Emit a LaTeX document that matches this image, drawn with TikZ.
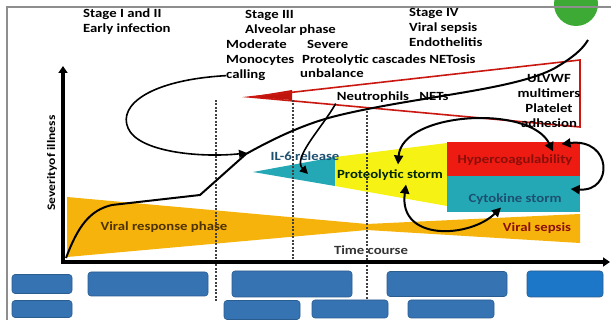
\documentclass[tikz,border=0pt]{standalone}
\usepackage{fontspec}
\setmainfont{Carlito}[FakeStretch=1.18]
\usetikzlibrary{arrows.meta, positioning, calc}
\definecolor{SevGrey}{HTML}{8E8E8E}
\definecolor{SevGreen}{HTML}{3DAA35}
\definecolor{SevOrange}{HTML}{F5B30C}
\definecolor{SevTeal}{HTML}{24A8B6}
\definecolor{SevYellow}{HTML}{F6F214}
\definecolor{SevRed}{HTML}{EE1B12}
\definecolor{SevBlue}{HTML}{3573B3}
\definecolor{SevBrightBlue}{HTML}{1D77C9}
\definecolor{SevBrown}{HTML}{4E3200}
\definecolor{SevDarkRed}{HTML}{8A0F0A}
\definecolor{SevDarkTeal}{HTML}{1D4F6E}
\tikzset{
    % text styles
    stage label/.style={
        font=\bfseries\fontsize{12.5}{15}\selectfont,
        align=left,
        inner sep=0pt,
        anchor=north west
    },
    phase label/.style={
        font=\bfseries\fontsize{12.5}{14}\selectfont,
        inner sep=1pt
    },
    % boxes below the time axis
    info box/.style={
        rectangle,
        rounded corners=3pt,
        fill=SevBlue,
        draw=SevBlue!80!black,
        line width=0.6pt,
        inner sep=0pt
    },
    % lines and arrows
    axis line/.style={
        line width=3.6pt,
        -{Triangle[length=7pt,width=9pt]}
    },
    stage divider/.style={
        line width=1.1pt,
        dash pattern=on 2pt off 1.5pt,
        black!75
    },
    severity curve/.style={
        line width=2pt,
        line join=round
    },
    loop arrow/.style={
        -{Triangle[length=8pt,width=8pt]},
        line width=1.6pt
    },
    storm arrow/.style={
        {Triangle[length=9pt,width=9pt]}-{Triangle[length=9pt,width=9pt]},
        line width=2pt
    }
}

\begin{document}
\begin{tikzpicture}[x=1pt, y=-1pt]
    \useasboundingbox (0,0) rectangle (611,320);

    % Frame and badge
    \begin{scope}
        \clip (0,0) rectangle (611,320);
        \fill[SevGreen] (576,4) circle[radius=22pt];
    \end{scope}
    \draw[SevGrey, line width=1.2pt] (611,7) -- (7,7) -- (7,320);

    % Phase bands
    \fill[SevOrange] (67,197) -- (367,224) -- (580,214) -- (580,243) -- (367,230) -- (67,257) -- cycle;
    \fill[SevTeal] (253,172) -- (335,157) -- (335,186) -- cycle;
    \fill[SevYellow] (335,157) -- (447,143) -- (447,206) -- (335,186) -- cycle;
    \fill[SevRed] (447,142) rectangle (580,176);
    \fill[SevTeal] (447,176) rectangle (580,212);

    % NETs wedge
    \fill[SevRed!80!black] (250,97) -- (292,90) -- (292,100) -- cycle;
    \draw[SevRed!85!black, line width=1.6pt, line join=miter] (250,97) -- (580,60) -- (580,127) -- cycle;

    % Stage dividers
    \draw[stage divider] (216,100) -- (216,302);
    \draw[stage divider] (293,100) -- (293,262);
    \draw[stage divider] (367,108) -- (367,318);

    % Severity curve
    \draw[severity curve] (66,258) .. controls (78,226) and (90,210) .. (112,205)
        -- (200,195) -- (246,154)
        .. controls (280,135) and (310,122) .. (340,115)
        .. controls (420,96) and (515,90) .. (555,68)
        .. controls (572,58) and (582,50) .. (588,40);

    % Axes
    \draw[axis line] (63,264) -- (63,66);
    \draw[axis line] (61,262) -- (610,262);

    % Stage headings
    \node[stage label] (stageone) at (83,9) {Stage I and II\\Early infection};
    \node[stage label] (stagethree) at (245,10) {Stage III\\Alveolar phase};
    \node[stage label] (moderate) at (226,40) {Moderate\\Monocytes};
    \node[stage label] (calling) at (226,70) {calling};
    \node[stage label] (severe) at (307,40) {Severe};
    \node[stage label] (cascades) at (302,55) {Proteolytic cascades NETosis};
    \node[stage label] (unbalance) at (300,69) {unbalance};
    \node[stage label] (stagefour) at (409,8) {Stage IV\\Viral sepsis\\Endothelitis};
    \node[stage label, align=center, anchor=center] (ulvwf) at (549,101) {ULVWF\\multimers\\Platelet\\adhesion};

    % Labels inside the picture
    \node[phase label] (neutro) at (373,97) {Neutrophils};
    \node[phase label] (nets) at (434,96) {NETs};
    \node[phase label, text=SevDarkTeal] (ilsix) at (305,156) {IL-6 release};
    \node[phase label, text=black!85!green] (proteo) at (390,175) {Proteolytic storm};
    \node[phase label, text=SevDarkRed] (hyper) at (515,160) {Hypercoagulability};
    \node[phase label, text=SevDarkTeal] (cytokine) at (515,199) {Cytokine storm};
    \node[phase label, text=SevDarkRed] (sepsis) at (537,228) {Viral sepsis};
    \node[phase label, text=SevBrown] (viralresp) at (164,227) {Viral response phase};
    \node[phase label, text=black!80] (timecourse) at (371,250) {Time course};
    \node[phase label, font=\bfseries\fontsize{11.5}{13}\selectfont, rotate=90] (severity) at (52,163) {Severityof illness};

    % Arrows
    \coordinate (curvehit) at (247,153);
    \coordinate (tealhit) at (308,174);
    \draw[loop arrow] (calling.west) .. controls (150,80) and (118,105) .. (128,128)
        .. controls (138,152) and (200,158) .. (curvehit);
    \draw[loop arrow] (neutro.south west) .. controls (322,128) and (292,158) .. (tealhit);
    \draw[storm arrow] ($(proteo.north)+(8,-4)$) .. controls (402,112) and (530,104) .. ($(hyper.north)+(38,-2)$);
    \draw[storm arrow] ($(hyper.east)+(-12,-16)$) .. controls (612,138) and (614,192) .. ($(cytokine.east)+(8,-10)$);
    \draw[storm arrow] ($(proteo.south)+(16,3)$) .. controls (398,242) and (470,238) .. ($(cytokine.south)+(-14,2)$);

    % Boxes below the axis
    \node[info box, minimum width=60pt, minimum height=19pt] (boxa) at (42,284) {};
    \node[info box, minimum width=60pt, minimum height=17pt] (boxb) at (42,309) {};
    \node[info box, minimum width=120pt, minimum height=24pt] (boxc) at (148,284) {};
    \node[info box, minimum width=120pt, minimum height=26pt] (boxd) at (292,284) {};
    \node[info box, minimum width=76pt, minimum height=19pt] (boxe) at (262,310) {};
    \node[info box, minimum width=76pt, minimum height=18pt] (boxf) at (350,309) {};
    \node[info box, minimum width=120pt, minimum height=25pt] (boxg) at (447,284) {};
    \node[info box, minimum width=86pt, minimum height=18pt] (boxh) at (451,309) {};
    \node[info box, fill=SevBrightBlue, minimum width=76pt, minimum height=26pt] (boxi) at (565,284) {};
\end{tikzpicture}
\end{document}
